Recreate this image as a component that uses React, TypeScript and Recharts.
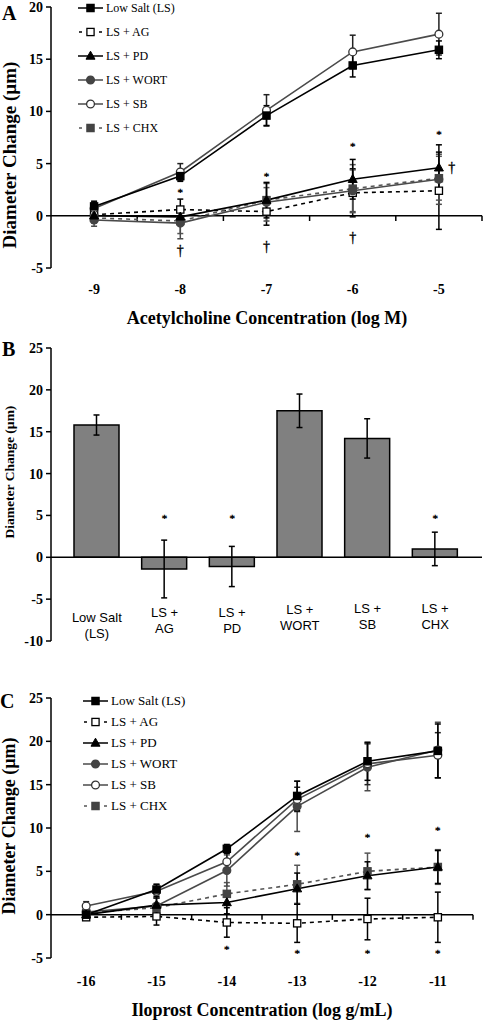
import React from 'react';
import {
  ComposedChart,
  Line,
  Bar,
  XAxis,
  YAxis,
  ErrorBar,
  ReferenceLine,
  Scatter,
  Legend,
} from 'recharts';

const SERIF = "'Liberation Serif', 'Times New Roman', serif";
const SANS = "'Liberation Sans', Arial, sans-serif";

// ---------------- Panel A: Acetylcholine ----------------
const concA = [-9, -8, -7, -6, -5];
const tickLabelsA = ['-9', '-8', '-7', '-6', '-5'];
const boundsA = [-8.5, -7.5, -6.5, -5.5, -4.5];
const yTicksA = [-5, 0, 5, 10, 15, 20];
const lsA = [0.9, 3.8, 9.6, 14.4, 15.9];
const lsAErr = [0.5, 0.5, 0.95, 1.1, 0.85];
const agA = [0.1, 0.6, 0.4, 2.2, 2.4];
const agAErr = [0.4, 1.0, 1.3, 2.3, 3.7];
const pdA = [0.0, -0.1, 1.5, 3.5, 4.6];
const pdAErr = [0.6, 0.7, 1.7, 1.9, 2.2];
const wortA = [-0.4, -0.7, 1.3, 2.4, 3.5];
const wortAErr = [0.6, 1.5, 1.8, 2.0, 2.4];
const sbA = [0.7, 4.2, 10.1, 15.7, 17.4];
const sbAErr = [0.6, 0.8, 1.5, 1.6, 2.0];
const chxA = [-0.2, -0.5, 1.5, 2.6, 3.6];
const chxAErr = [0.5, 1.2, 1.2, 2.3, 2.1];
const starsA = [
  { x: -8, y: 2.4 },
  { x: -7, y: 3.9 },
  { x: -6, y: 6.8 },
  { x: -5, y: 7.9 },
];
const daggersA = [
  { x: -8, y: -3.4 },
  { x: -7, y: -3.0 },
  { x: -6, y: -2.1 },
  { x: -4.85, y: 4.6 },
];

// ---------------- Panel B: bar summary ----------------
const groupsB = ['Low Salt|(LS)', 'LS +|AG', 'LS +|PD', 'LS +|WORT', 'LS +|SB', 'LS +|CHX'];
const valuesB = [15.8, -1.4, -1.1, 17.5, 14.2, 1.0];
const errorsB = [1.2, 3.45, 2.4, 2.0, 2.35, 2.0];
const starsB = [null, 4.8, 4.8, null, null, 4.8];
const yTicksB = [-10, -5, 0, 5, 10, 15, 20, 25];

// ---------------- Panel C: Iloprost ----------------
const concC = [-16, -15, -14, -13, -12, -11];
const tickLabelsC = ['-16', '-15', '-14', '-13', '-12', '-11'];
const boundsC = [-15.5, -14.5, -13.5, -12.5, -11.5, -10.5];
const yTicksC = [-5, 0, 5, 10, 15, 20, 25];
const lsC = [0.0, 2.9, 7.6, 13.7, 17.7, 18.9];
const lsCErr = [0.4, 0.6, 0.5, 1.7, 2.2, 3.1];
const agC = [-0.3, -0.2, -0.9, -1.0, -0.5, -0.3];
const agCErr = [0.3, 1.0, 1.7, 2.2, 2.4, 2.9];
const pdC = [0.0, 1.1, 1.4, 3.0, 4.5, 5.5];
const pdCErr = [0.3, 1.0, 1.3, 1.8, 1.6, 1.9];
const wortC = [0.3, 1.0, 5.1, 12.5, 17.0, 19.0];
const wortCErr = [0.5, 0.9, 1.8, 2.9, 2.7, 3.2];
const sbC = [1.0, 2.7, 6.1, 13.3, 17.4, 18.4];
const sbCErr = [0.5, 0.8, 1.0, 1.4, 2.4, 2.6];
const chxC = [0.2, 0.8, 2.4, 3.5, 5.0, 5.5];
const chxCErr = [0.4, 1.2, 1.3, 2.2, 2.1, 2.0];
const starsC = [
  { x: -13, y: 7.0 },
  { x: -12, y: 9.1 },
  { x: -11, y: 9.9 },
  { x: -14, y: -3.8 },
  { x: -13, y: -4.3 },
  { x: -12, y: -4.3 },
  { x: -11, y: -4.3 },
];

// ---------------- series styling ----------------
type Style = {
  key: string;
  name: string;
  shape: 'square' | 'triangle' | 'circle';
  fill: string;
  stroke: string;
  line: string;
  dash?: boolean;
};
const SERIES: Style[] = [
  { key: 'ag', name: 'LS + AG', shape: 'square', fill: '#fff', stroke: '#000', line: '#000', dash: true },
  { key: 'chx', name: 'LS + CHX', shape: 'square', fill: '#444', stroke: '#444', line: '#555', dash: true },
  { key: 'wort', name: 'LS + WORT', shape: 'circle', fill: '#444', stroke: '#444', line: '#4a4a4a' },
  { key: 'sb', name: 'LS + SB', shape: 'circle', fill: '#fff', stroke: '#333', line: '#4a4a4a' },
  { key: 'pd', name: 'LS + PD', shape: 'triangle', fill: '#000', stroke: '#000', line: '#000' },
  { key: 'ls', name: 'Low Salt (LS)', shape: 'square', fill: '#000', stroke: '#000', line: '#000' },
];
const LEGEND_ORDER = ['ls', 'ag', 'pd', 'wort', 'sb', 'chx'];

const rowsA = concA.map((x, i) => ({
  x,
  ls: lsA[i], lsE: lsAErr[i],
  ag: agA[i], agE: agAErr[i],
  pd: pdA[i], pdE: pdAErr[i],
  wort: wortA[i], wortE: wortAErr[i],
  sb: sbA[i], sbE: sbAErr[i],
  chx: chxA[i], chxE: chxAErr[i],
}));
const rowsC = concC.map((x, i) => ({
  x,
  ls: lsC[i], lsE: lsCErr[i],
  ag: agC[i], agE: agCErr[i],
  pd: pdC[i], pdE: pdCErr[i],
  wort: wortC[i], wortE: wortCErr[i],
  sb: sbC[i], sbE: sbCErr[i],
  chx: chxC[i], chxE: chxCErr[i],
}));
const rowsB = groupsB.map((cat, i) => ({ cat, v: valuesB[i], e: errorsB[i], star: starsB[i] }));

function Marker({ shape, cx, cy, fill, stroke }: any) {
  if (shape === 'square')
    return <rect x={cx - 3.6} y={cy - 3.6} width={7.2} height={7.2} fill={fill} stroke={stroke} strokeWidth={1.3} />;
  if (shape === 'triangle')
    return (
      <polygon
        points={`${cx},${cy - 4.8} ${cx + 4.5},${cy + 3.2} ${cx - 4.5},${cy + 3.2}`}
        fill={fill}
        stroke={stroke}
        strokeWidth={1}
      />
    );
  return <circle cx={cx} cy={cy} r={3.9} fill={fill} stroke={stroke} strokeWidth={1.3} />;
}

const makeDot = (s: Style) => (p: any) => {
  const { cx, cy, index } = p;
  if (cx == null || cy == null || isNaN(cx) || isNaN(cy)) return <g key={`e${s.key}${index}`} />;
  return <Marker key={`d${s.key}${index}`} shape={s.shape} cx={cx} cy={cy} fill={s.fill} stroke={s.stroke} />;
};

const symbolShape = (sym: string, size: number, lift: number) => (p: any) => {
  const cx = p.cx ?? (p.x + (p.width || 0) / 2);
  const cy = p.cy ?? (p.y + (p.height || 0) / 2);
  return (
    <text
      x={cx}
      y={cy + lift}
      textAnchor="middle"
      fontFamily={SERIF}
      fontSize={size}
      fill="#000"
      stroke="#000"
      strokeWidth={0.35}
    >
      {sym}
    </text>
  );
};

function LegendBox({ rowH, fontSize, lineW }: { rowH: number; fontSize: number; lineW: number }) {
  return (
    <div style={{ display: 'flex', flexDirection: 'column' }}>
      {LEGEND_ORDER.map((k) => {
        const s = SERIES.find((q) => q.key === k)!;
        const mid = lineW / 2;
        return (
          <div key={k} style={{ display: 'flex', alignItems: 'center', height: rowH }}>
            <svg width={lineW} height={12} style={{ display: 'block' }}>
              {s.dash ? (
                <>
                  <line x1={1} y1={6} x2={4} y2={6} stroke={s.line} strokeWidth={1.5} />
                  <line x1={lineW - 4} y1={6} x2={lineW - 1} y2={6} stroke={s.line} strokeWidth={1.5} />
                </>
              ) : (
                <line x1={0} y1={6} x2={lineW} y2={6} stroke={s.line} strokeWidth={1.5} />
              )}
              <Marker shape={s.shape} cx={mid} cy={6} fill={s.fill} stroke={s.stroke} />
            </svg>
            <span
              style={{
                fontFamily: SERIF,
                fontSize,
                color: '#000',
                marginLeft: 3,
                whiteSpace: 'nowrap',
                lineHeight: 1,
              }}
            >
              {s.name}
            </span>
          </div>
        );
      })}
    </div>
  );
}

const axisStyle = { stroke: '#000', strokeWidth: 1.5 };
const yTickStyle = { fill: '#000', fontFamily: SERIF, fontWeight: 700, fontSize: 14 };

const makeXTick = (labels: string[], ticks: number[], drop: number) => (tp: any) => {
  const { x, y, payload } = tp;
  const i = ticks.indexOf(payload.value);
  const label = i >= 0 ? labels[i] : String(payload.value);
  return (
    <text x={x} y={y + drop} textAnchor="middle" fontFamily={SERIF} fontWeight={700} fontSize={14} fill="#000">
      {label}
    </text>
  );
};

function LinePanel(props: {
  rows: any[];
  xTicks: number[];
  xLabels: string[];
  xDomain: [number, number];
  bounds: number[];
  tickLen: number;
  yDomain: [number, number];
  yTicks: number[];
  height: number;
  marginTop: number;
  marginRight: number;
  xAxisH: number;
  xTickDrop: number;
  stars: { x: number; y: number }[];
  daggers: { x: number; y: number }[];
  legend: { left: number; top: number; rowH: number; fontSize: number; lineW: number };
}) {
  const p = props;
  return (
    <ComposedChart
      width={484}
      height={p.height}
      data={p.rows}
      margin={{ top: p.marginTop, right: p.marginRight, bottom: 0, left: 0 }}
    >
      <XAxis
        dataKey="x"
        type="number"
        domain={p.xDomain}
        ticks={p.xTicks}
        axisLine={false}
        tickLine={false}
        tickSize={0}
        tickMargin={0}
        height={p.xAxisH}
        interval={0}
        allowDataOverflow
        tick={makeXTick(p.xLabels, p.xTicks, p.xTickDrop)}
      />
      <YAxis
        type="number"
        width={51}
        domain={p.yDomain}
        ticks={p.yTicks}
        interval={0}
        allowDataOverflow
        tickSize={5}
        tickMargin={3}
        axisLine={axisStyle}
        tickLine={axisStyle}
        tick={yTickStyle}
      />
      <ReferenceLine y={0} stroke="#000" strokeWidth={1.5} />
      {p.bounds.map((b) => (
        <ReferenceLine
          key={`b${b}`}
          segment={[
            { x: b, y: 0 },
            { x: b, y: -p.tickLen },
          ]}
          stroke="#000"
          strokeWidth={1.5}
        />
      ))}
      {SERIES.map((s) => (
        <Line
          key={s.key}
          dataKey={s.key}
          name={s.name}
          stroke={s.line}
          strokeWidth={1.6}
          strokeDasharray={s.dash ? '4 4' : undefined}
          dot={makeDot(s)}
          activeDot={false}
          isAnimationActive={false}
        >
          <ErrorBar dataKey={`${s.key}E`} width={3} stroke={s.stroke === '#333' ? '#222' : s.line} strokeWidth={1.5} direction="y" />
        </Line>
      ))}
      <Scatter data={p.stars} dataKey="y" fill="#000" shape={symbolShape('*', 11, 5)} isAnimationActive={false} />
      <Scatter data={p.daggers} dataKey="y" fill="#000" shape={symbolShape('\u2020', 14, 4)} isAnimationActive={false} />
      <Legend
        layout="horizontal"
        verticalAlign="middle"
        align="center"
        wrapperStyle={{ position: 'absolute', left: p.legend.left, top: p.legend.top, width: 'auto', height: 'auto' }}
        content={() => <LegendBox rowH={p.legend.rowH} fontSize={p.legend.fontSize} lineW={p.legend.lineW} />}
      />
    </ComposedChart>
  );
}

const B_LIFT = [-19, -24, -24, -27, -28, -28];

function BTick(props: any) {
  const { x, y, payload, index } = props;
  const parts = String(payload.value).split('|');
  const base = y + (B_LIFT[index] ?? -24);
  return (
    <text x={x} y={base} textAnchor="middle" fontFamily={SANS} fontSize={13} fill="#000" stroke="none">
      <tspan x={x} y={base}>{parts[0]}</tspan>
      <tspan x={x} y={base + 15.5}>{parts[1]}</tspan>
    </text>
  );
}

const starDotB = (p: any) => {
  const { cx, cy, index, value } = p;
  if (cx == null || cy == null || value == null || isNaN(cy)) return <g key={`sb${index}`} />;
  return (
    <text
      key={`sb${index}`}
      x={cx}
      y={cy + 5}
      textAnchor="middle"
      fontFamily={SERIF}
      fontSize={11}
      fill="#000"
      stroke="#000"
      strokeWidth={0.35}
    >
      *
    </text>
  );
};

function BarPanel() {
  return (
    <ComposedChart width={484} height={350} data={rowsB} margin={{ top: 18, right: 2, bottom: 0, left: 0 }}>
      <XAxis
        dataKey="cat"
        type="category"
        padding={{ left: 12, right: 13 }}
        axisLine={false}
        tickLine={false}
        tickSize={0}
        tickMargin={0}
        height={39}
        interval={0}
        tick={<BTick />}
      />
      <YAxis
        type="number"
        width={51}
        domain={[-10, 25]}
        ticks={yTicksB}
        interval={0}
        allowDataOverflow
        tickSize={5}
        tickMargin={3}
        axisLine={axisStyle}
        tickLine={axisStyle}
        tick={yTickStyle}
      />
      <Bar dataKey="v" fill="#808080" stroke="#000" strokeWidth={1.5} barSize={45} isAnimationActive={false}>
        <ErrorBar dataKey="e" width={3} stroke="#000" strokeWidth={1.5} direction="y" />
      </Bar>
      <ReferenceLine y={0} stroke="#000" strokeWidth={1.5} />
      <Line dataKey="star" stroke="none" dot={starDotB} activeDot={false} isAnimationActive={false} />
    </ComposedChart>
  );
}

export default function App() {
  const titleStyle = { fontFamily: SERIF, fontWeight: 700, fill: '#000' } as const;
  return (
    <div style={{ position: 'absolute', left: 0, top: 0, width: 484, height: 1020, background: '#fff', overflow: 'hidden' }}>
      <div style={{ position: 'absolute', left: 0, top: 0 }}>
        <LinePanel
          rows={rowsA}
          xTicks={concA}
          xLabels={tickLabelsA}
          xDomain={[-9.5, -4.5]}
          bounds={boundsA}
          tickLen={0.5}
          yDomain={[-5, 20]}
          yTicks={yTicksA}
          height={330}
          marginTop={7}
          marginRight={2}
          xAxisH={62}
          xTickDrop={26}
          stars={starsA}
          daggers={daggersA}
          legend={{ left: 78, top: -4, rowH: 24, fontSize: 12, lineW: 25 }}
        />
      </div>
      <div style={{ position: 'absolute', left: 0, top: 330 }}>
        <BarPanel />
      </div>
      <div style={{ position: 'absolute', left: 0, top: 680 }}>
        <LinePanel
          rows={rowsC}
          xTicks={concC}
          xLabels={tickLabelsC}
          xDomain={[-16.5, -10.5]}
          bounds={boundsC}
          tickLen={0.6}
          yDomain={[-5, 25]}
          yTicks={yTicksC}
          height={340}
          marginTop={18}
          marginRight={11}
          xAxisH={62}
          xTickDrop={28}
          stars={starsC}
          daggers={[]}
          legend={{ left: 83, top: 10, rowH: 21, fontSize: 13, lineW: 25 }}
        />
      </div>
      <svg
        width={484}
        height={1020}
        style={{ position: 'absolute', left: 0, top: 0, pointerEvents: 'none' }}
      >
        <text x={2} y={20} fontSize={20} {...titleStyle}>A</text>
        <text x={2} y={356} fontSize={20} {...titleStyle}>B</text>
        <text x={0} y={708} fontSize={20} {...titleStyle}>C</text>
        <text x={267} y={324} fontSize={18} textAnchor="middle" {...titleStyle}>
          Acetylcholine Concentration (log M)
        </text>
        <text x={262} y={1016} fontSize={18} textAnchor="middle" {...titleStyle}>
          Iloprost Concentration (log g/mL)
        </text>
        <text x={16} y={155} fontSize={19} textAnchor="middle" transform="rotate(-90 16 155)" {...titleStyle}>
          Diameter Change (µm)
        </text>
        <text x={14} y={472} fontSize={13.5} textAnchor="middle" transform="rotate(-90 14 472)" {...titleStyle}>
          Diameter Change (µm)
        </text>
        <text x={15} y={826} fontSize={18} textAnchor="middle" transform="rotate(-90 15 826)" {...titleStyle}>
          Diameter Change (µm)
        </text>
      </svg>
    </div>
  );
}
